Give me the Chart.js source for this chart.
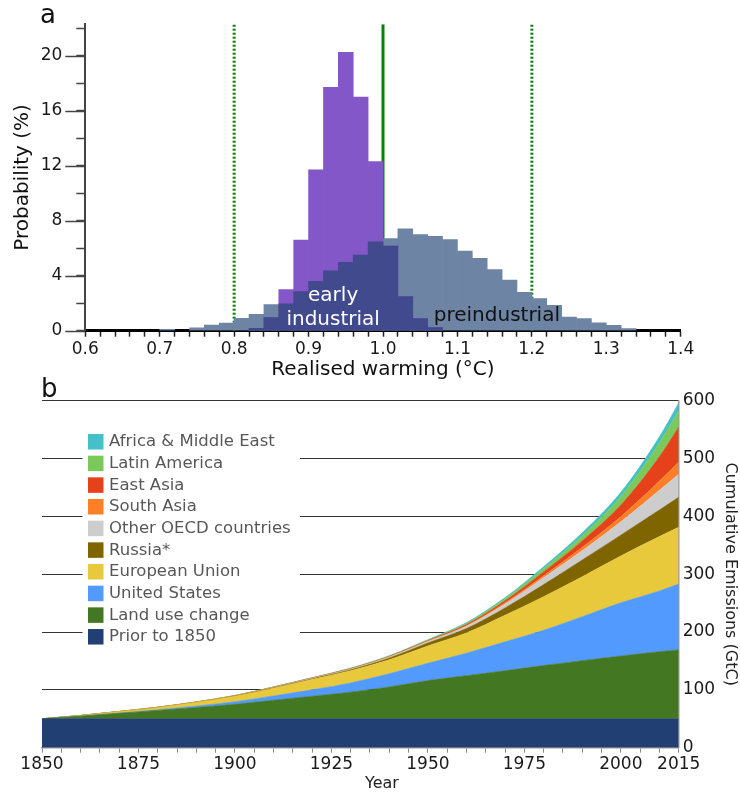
<!DOCTYPE html>
<html>
<head>
<meta charset="utf-8">
<script src="https://cdn.jsdelivr.net/npm/chart.js@4.4.0/dist/chart.umd.min.js"></script>
<style>
  body { margin: 0; background: #fff; font-family: "DejaVu Sans", sans-serif; }
  #wrap { position: relative; width: 740px; height: 796px; }
  #boxA { position: absolute; left: 0; top: 0; }
  #boxB { position: absolute; left: 0; top: 380px; }
  .panel { position: absolute; font-size: 26px; line-height: 26px; color: #111; }
</style>
</head>
<body>
<div id="wrap">
  <div id="boxA"><canvas id="histA" width="740" height="380"></canvas></div>
  <div id="boxB"><canvas id="areaB" width="740" height="416"></canvas></div>
  <div class="panel" style="left:40px;top:1px">a</div>
  <div class="panel" style="left:41px;top:375px">b</div>
</div>
<script>
// ---------- panel a: histogram data ----------
const binStart = [0.70, 0.72, 0.74, 0.76, 0.78, 0.80, 0.82, 0.84, 0.86, 0.88, 0.90,
                  0.92, 0.94, 0.96, 0.98, 1.00, 1.02, 1.04, 1.06, 1.08, 1.10, 1.12,
                  1.14, 1.16, 1.18, 1.20, 1.22, 1.24, 1.26, 1.28, 1.30, 1.32];
const binWidth = 0.02;
const preindustrial = [0.1, null, 0.2, 0.4, 0.55, 0.9, 1.2, 1.9, 1.96, 2.85, 3.6,
                       4.35, 4.98, 5.5, 6.46, 6.7, 7.42, 6.99, 6.87, 6.63, 5.79, 5.27,
                       4.45, 3.69, 2.8, 2.33, 1.85, 1.0, 0.89, 0.57, 0.39, 0.15];
const earlyIndustrial = [null, null, null, null, null, null, 0.17, 0.96, 3.0, 6.6, 11.7,
                         17.7, 20.26, 17.0, 12.3, 6.15, 2.49, 0.89, 0.22, null, null, null,
                         null, null, null, null, null, null, null, null, null, null];
const solidLines = [1.0];
const dottedLines = [0.8, 1.2];
const probTicks = [0, 4, 8, 12, 16, 20];

// ---------- panel b: cumulative emissions (GtC) ----------
const years = [1850, 1860, 1870, 1880, 1890, 1900, 1910, 1920, 1930,
               1940, 1950, 1960, 1970, 1980, 1990, 2000, 2010, 2015];
const priorTo1850 = [50, 50, 50, 50, 50, 50, 50, 50, 50, 50, 50, 50, 50, 50, 50, 50, 50, 50];
const landUse     = [0, 4.5, 9.5, 14.5, 19.5, 25, 32, 39, 46, 55, 66, 74.5, 83, 92, 100.5, 108.5, 116, 119];
const usa         = [0, 0.2, 0.5, 1.2, 2.5, 4.5, 7.5, 11, 16, 23, 30, 39, 50, 61, 76, 92, 105, 114];
const eu          = [0, 1, 2.5, 4, 6.5, 9.5, 13.5, 18, 21, 24, 30, 35, 46, 58, 69, 81, 94, 98];
const russia      = [0, 0, 0.05, 0.1, 0.2, 0.4, 0.7, 1, 1.6, 3, 5, 7.5, 12.5, 21, 29, 36, 46, 52];
const otherOecd   = [0, 0, 0.1, 0.2, 0.3, 0.5, 0.7, 1, 1.3, 1.7, 2.5, 4, 7, 12, 16, 23, 34, 40];
const southAsia   = [0, 0, 0, 0, 0.05, 0.1, 0.2, 0.3, 0.4, 0.5, 0.6, 1, 2, 3.5, 6, 9, 16, 21];
const eastAsia    = [0, 0, 0, 0, 0.05, 0.1, 0.2, 0.3, 0.5, 0.7, 1, 2, 3.5, 6.5, 11, 20, 42, 60];
const latinAm     = [0, 0, 0, 0, 0.05, 0.1, 0.2, 0.3, 0.5, 0.7, 1, 2, 3.5, 5.5, 9, 15, 24, 28];
const africaMe    = [0, 0, 0, 0, 0, 0.05, 0.1, 0.2, 0.3, 0.5, 0.7, 1.3, 2, 3.5, 5, 7, 10.5, 14];
const yearLabels = [1850, 1875, 1900, 1925, 1950, 1975, 2000, 2015];

Chart.defaults.font.family = '"DejaVu Sans", sans-serif';
Chart.defaults.color = '#222';

// ----------------------
// PANEL A
// ----------------------
const overlap = binStart.map((b, i) =>
  preindustrial[i] && earlyIndustrial[i] ? Math.min(preindustrial[i], earlyIndustrial[i]) : null);
const toBars = vals => binStart.map((b, i) => ({ x: b + binWidth / 2, y: vals[i] }));
const yTop = 22.3;
const vLine = (xv, dash, order) => ({
  type: "line",
  data: [{ x: xv, y: 0 }, { x: xv, y: yTop }],
  borderColor: "#0a800a", borderWidth: 3, borderDash: dash,
  pointRadius: 0, order: order
});

const labelsA = {
  id: "labelsA",
  afterDatasetsDraw(chart) {
    const { ctx, scales: { x, y } } = chart;
    ctx.save();
    ctx.font = '20px "DejaVu Sans"';
    ctx.textAlign = "center";
    ctx.textBaseline = "middle";
    ctx.fillStyle = "#fff";
    ctx.fillText("early", x.getPixelForValue(0.933), y.getPixelForValue(2.56));
    ctx.fillText("industrial", x.getPixelForValue(0.933), y.getPixelForValue(0.77));
    ctx.fillStyle = "#111";
    ctx.fillText("preindustrial", x.getPixelForValue(1.153), y.getPixelForValue(1.08));
    ctx.restore();
  },
  afterDraw(chart) {
    // long major ticks on the probability axis
    const { ctx, chartArea, scales: { y } } = chart;
    ctx.save();
    ctx.strokeStyle = "#444";
    ctx.lineWidth = 1.5;
    probTicks.forEach(v => {
      const py = Math.round(y.getPixelForValue(v)) + 0.5;
      ctx.beginPath();
      ctx.moveTo(chartArea.left - 20, py);
      ctx.lineTo(chartArea.left, py);
      ctx.stroke();
    });
    ctx.restore();
  }
};

new Chart(document.getElementById("histA"), {
  type: "bar",
  data: {
    datasets: [
      { label: "overlap", data: toBars(overlap), backgroundColor: "#424a8e", order: 1 },
      { label: "early industrial", data: toBars(earlyIndustrial), backgroundColor: "#8457c8", order: 2 },
      { label: "preindustrial", data: toBars(preindustrial), backgroundColor: "#6d84a4", order: 3 },
      ...solidLines.map(v => vLine(v, [], 4)),
      ...dottedLines.map(v => vLine(v, [2, 2], 5))
    ]
  },
  options: {
    responsive: false,
    animation: false,
    layout: { padding: { left: 0, right: 59.3, top: 20, bottom: 0 } },
    datasets: { bar: { grouped: false, barPercentage: 1, categoryPercentage: 1, borderWidth: 0 } },
    plugins: { legend: { display: false }, tooltip: { enabled: false } },
    scales: {
      x: {
        type: "linear", min: 0.6, max: 1.4, offset: false,
        afterBuildTicks: s => {
          const t = [];
          for (let i = 0; i <= 40; i++) t.push({ value: Math.round(60 + i * 2) / 100 });
          s.ticks = t;
        },
        ticks: {
          autoSkip: false, maxRotation: 0, padding: 3, color: "#1a1a1a", font: { size: 17 },
          callback: v => Math.round(v * 100) % 10 === 0 ? v.toFixed(1) : ""
        },
        grid: { drawOnChartArea: false, offset: false, tickLength: 6, tickColor: "#222", tickWidth: 1.5 },
        border: { color: "#000", width: 3 },
        title: { display: true, text: "Realised warming (°C)", color: "#111", font: { size: 20, lineHeight: 1 }, padding: 0 },
        afterFit: s => { s.height = 49.3; }
      },
      y: {
        min: 0, max: yTop,
        afterBuildTicks: s => {
          const t = [];
          for (let v = 0; v <= 22; v++) t.push({ value: v });
          s.ticks = t;
        },
        ticks: { padding: 14, color: "#1a1a1a", font: { size: 17 }, callback: v => v % 4 === 0 ? v : "" },
        grid: { drawOnChartArea: false, tickLength: 9, tickColor: "#444", tickWidth: 1.5 },
        border: { color: "#444", width: 2 },
        title: { display: true, text: "Probability (%)", color: "#111", font: { size: 20, lineHeight: 1 }, padding: { top: 13, bottom: 0 } },
        afterFit: s => { s.width = 85.3; }
      }
    }
  },
  plugins: [labelsA]
});

// ----------------------
// PANEL B
// ----------------------
const series = [
  { label: "Prior to 1850", values: priorTo1850, color: "#213f72" },
  { label: "Land use change", values: landUse, color: "#447722" },
  { label: "United States", values: usa, color: "#539afe" },
  { label: "European Union", values: eu, color: "#e8c93b" },
  { label: "Russia*", values: russia, color: "#7f6500" },
  { label: "Other OECD countries", values: otherOecd, color: "#cdcdcd" },
  { label: "South Asia", values: southAsia, color: "#ff7f27" },
  { label: "East Asia", values: eastAsia, color: "#e5421c" },
  { label: "Latin America", values: latinAm, color: "#7bc95b" },
  { label: "Africa & Middle East", values: africaMe, color: "#45c0c6" }
];

const legendB = {
  id: "legendB",
  afterDatasetsDraw(chart) {
    const { ctx } = chart;
    ctx.save();
    ctx.fillStyle = "#fff";
    ctx.fillRect(82.5, 32, 217.5, 234);
    ctx.font = '16.5px "DejaVu Sans"';
    ctx.textBaseline = "middle";
    const items = chart.data.datasets.slice().reverse();
    items.forEach((ds, i) => {
      const cy = 61.5 + i * 21.67;
      ctx.fillStyle = ds.backgroundColor;
      ctx.fillRect(88, cy - 7.5, 15.5, 15.5);
      ctx.fillStyle = "#575757";
      ctx.fillText(ds.label, 109, cy + 0.5);
    });
    ctx.font = '16px "DejaVu Sans"';
    ctx.fillStyle = "#222";
    ctx.textAlign = "center";
    ctx.fillText("Year", 382, 404);
    ctx.restore();
  }
};

new Chart(document.getElementById("areaB"), {
  type: "line",
  data: {
    datasets: series.map((s, i) => ({
      label: s.label,
      data: years.map((yr, j) => ({ x: yr, y: s.values[j] })),
      backgroundColor: s.color,
      borderColor: s.color,
      borderWidth: 0.6,
      fill: i === 0 ? "origin" : "-1",
      pointRadius: 0,
      cubicInterpolationMode: "monotone"
    }))
  },
  options: {
    responsive: false,
    animation: false,
    layout: { padding: { left: 42, right: 0, top: 20.7, bottom: 0 } },
    plugins: { legend: { display: false }, tooltip: { enabled: false } },
    scales: {
      x: {
        type: "linear", min: 1850, max: 2015,
        afterBuildTicks: s => {
          const t = [];
          for (let v = 1850; v <= 2015; v += 5) t.push({ value: v });
          s.ticks = t;
        },
        ticks: {
          autoSkip: false, maxRotation: 0, padding: 2, color: "#1a1a1a", font: { size: 17 },
          callback: v => yearLabels.includes(v) ? String(v) : ""
        },
        grid: { drawOnChartArea: false, tickLength: 5, tickColor: "#888" },
        border: { color: "#999", width: 1.5 },
        afterFit: s => { s.height = 48.3; }
      },
      y: {
        position: "right", stacked: true, min: 0, max: 600,
        ticks: { stepSize: 100, padding: 4, color: "#1a1a1a", font: { size: 17 } },
        grid: { color: "#333", lineWidth: 1, drawTicks: false },
        border: { color: "#999", width: 1.5 },
        title: { display: true, text: "Cumulative Emissions (GtC)", color: "#222", font: { size: 16, lineHeight: 1 }, padding: { top: 2, bottom: 0 } },
        afterFit: s => { s.width = 61.3; }
      }
    }
  },
  plugins: [legendB]
});
</script>
</body>
</html>
